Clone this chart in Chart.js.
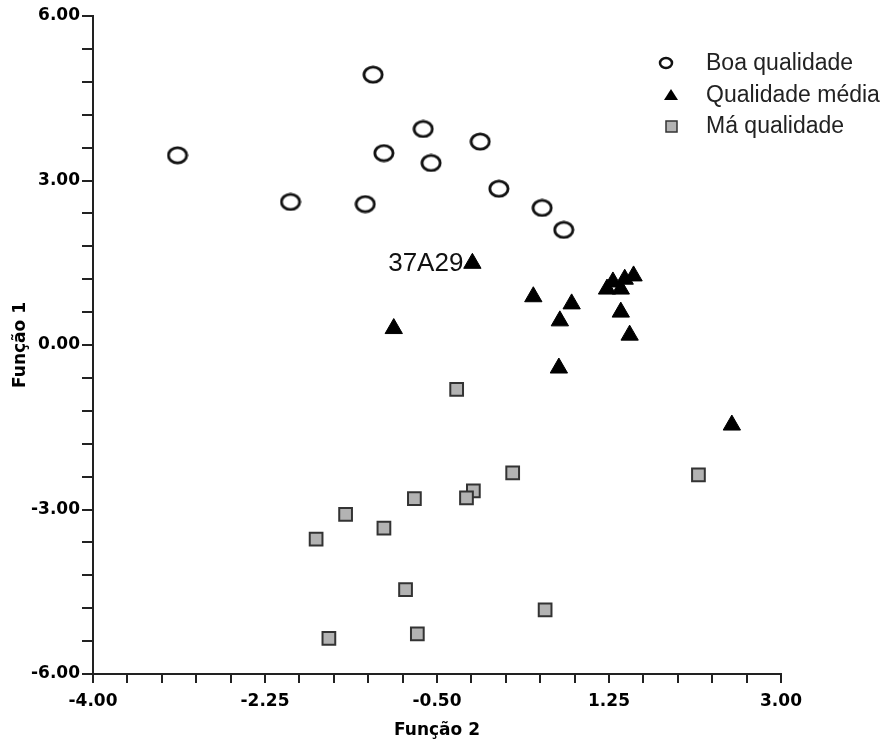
<!DOCTYPE html>
<html>
<head>
<meta charset="utf-8">
<script src="https://cdn.jsdelivr.net/npm/chart.js@4.4.1/dist/chart.umd.min.js"></script>
<style>
  html, body { margin: 0; padding: 0; background: #fff; }
  #wrap { width: 894px; height: 741px; }
</style>
</head>
<body>
<div id="wrap"><canvas id="scoreChart" width="894" height="741"></canvas></div>
<script>
const seriesNames = ['Boa qualidade', 'Qualidade média', 'Má qualidade'];

// Boa qualidade (circles)
const goodX = [-3.14, -1.99, -1.15, -1.04, -0.64, -0.56, -0.06, -1.23, 0.13, 0.57, 0.79];
const goodY = [3.46, 2.61, 4.93, 3.50, 3.94, 3.32, 3.71, 2.57, 2.85, 2.50, 2.10];

// Qualidade média (triangles)
const medX = [-0.14, -0.94, 0.48, 0.87, 0.75, 1.23, 1.29, 1.37, 1.41, 1.50, 1.37, 1.46, 0.74, 2.50];
const medY = [1.49, 0.30, 0.88, 0.75, 0.44, 1.02, 1.15, 1.02, 1.20, 1.26, 0.60, 0.18, -0.42, -1.46];

// Má qualidade (squares)
const badX = [-0.30, 0.27, -0.13, -0.20, -0.73, -1.43, -1.04, -1.73, -0.82, -1.60, -0.70, 0.60, 2.16];
const badY = [-0.81, -2.33, -2.66, -2.79, -2.80, -3.09, -3.34, -3.54, -4.46, -5.35, -5.27, -4.83, -2.37];

const xTickLabels = ['-4.00', '-2.25', '-0.50', '1.25', '3.00'];
const yTickLabels = ['-6.00', '-3.00', '0.00', '3.00', '6.00'];

const pointNotes = [{ series: 1, index: 0, text: '37A29' }];

function toPoints(xs, ys) {
  return xs.map((x, i) => ({ x: x, y: ys[i] }));
}

// open ellipse marker like the original
function ellipseMarker(w, h, lw) {
  const c = document.createElement('canvas');
  c.width = w; c.height = h;
  const g = c.getContext('2d');
  g.beginPath();
  g.ellipse(w / 2, h / 2, w / 2 - lw / 2 - 0.5, h / 2 - lw / 2 - 0.5, 0, 0, Math.PI * 2);
  g.fillStyle = '#fff';
  g.fill();
  g.lineWidth = lw;
  g.strokeStyle = '#111';
  g.stroke();
  return c;
}

const circleImg = ellipseMarker(22, 19, 2.8);

const tickFont = { family: '"DejaVu Sans", Arial, sans-serif', size: 17, weight: 'bold' };

function tickText(list) {
  return function(value) {
    const s = Number(value).toFixed(2);
    return list.includes(s) ? s : '';
  };
}

const extras = {
  id: 'extras',
  afterDatasetsDraw(chart) {
    const ctx = chart.ctx;
    const xs = chart.scales.x, ys = chart.scales.y;
    ctx.save();
    ctx.font = '26px "Liberation Sans", Arial, sans-serif';
    ctx.fillStyle = '#111';
    ctx.textAlign = 'right';
    ctx.textBaseline = 'middle';
    pointNotes.forEach(n => {
      const p = chart.data.datasets[n.series].data[n.index];
      ctx.fillText(n.text, xs.getPixelForValue(p.x) - 9, ys.getPixelForValue(p.y) + 1);
    });

    // legend in the upper right corner
    const mx = 667, tx = 706;
    const rows = [63, 95, 126];
    ctx.font = '23px "Liberation Sans", Arial, sans-serif';
    ctx.textAlign = 'left';
    chart.data.datasets.forEach((ds, i) => {
      const y = rows[i];
      ctx.beginPath();
      if (i === 0) {
        ctx.ellipse(mx - 1, y, 6, 5, 0, 0, Math.PI * 2);
        ctx.fillStyle = '#fff';
        ctx.fill();
        ctx.lineWidth = 2.5;
        ctx.strokeStyle = '#111';
        ctx.stroke();
      } else if (i === 1) {
        ctx.moveTo(mx + 4, y - 6);
        ctx.lineTo(mx + 11, y + 5);
        ctx.lineTo(mx - 3, y + 5);
        ctx.closePath();
        ctx.fillStyle = '#000';
        ctx.fill();
      } else {
        ctx.rect(mx - 1, y - 5, 11, 11);
        ctx.fillStyle = '#b3b3b3';
        ctx.fill();
        ctx.lineWidth = 1.5;
        ctx.strokeStyle = '#333';
        ctx.stroke();
      }
      ctx.fillStyle = '#222';
      ctx.fillText(ds.label, tx, y + 1);
    });
    ctx.restore();
  }
};

const config = {
  type: 'scatter',
  data: {
    datasets: [
      {
        label: seriesNames[0],
        data: toPoints(goodX, goodY),
        pointStyle: circleImg,
        radius: 9
      },
      {
        label: seriesNames[1],
        data: toPoints(medX, medY),
        pointStyle: 'triangle',
        radius: 10,
        backgroundColor: '#000',
        borderColor: '#000',
        borderWidth: 1
      },
      {
        label: seriesNames[2],
        data: toPoints(badX, badY),
        pointStyle: 'rect',
        radius: 9,
        backgroundColor: '#b3b3b3',
        borderColor: '#333',
        borderWidth: 2
      }
    ]
  },
  options: {
    responsive: false,
    animation: false,
    layout: { padding: { top: 16, right: 113, left: 0, bottom: 0 } },
    plugins: {
      legend: { display: false },
      tooltip: { enabled: false }
    },
    scales: {
      x: {
        type: 'linear',
        min: -4,
        max: 3,
        afterFit(scale) { scale.height = 67; },
        border: { display: true, color: '#222', width: 2 },
        grid: { drawOnChartArea: false, drawTicks: true, tickLength: 9, color: '#222', lineWidth: 2 },
        ticks: {
          stepSize: 0.35,
          autoSkip: false,
          maxRotation: 0,
          padding: 8,
          color: '#000',
          font: tickFont,
          callback: tickText(xTickLabels)
        },
        title: {
          display: true,
          text: 'Função 2',
          color: '#000',
          font: tickFont,
          padding: { top: 5, bottom: 0 }
        }
      },
      y: {
        type: 'linear',
        min: -6,
        max: 6,
        afterFit(scale) { scale.width = 93; },
        border: { display: true, color: '#222', width: 2 },
        grid: { drawOnChartArea: false, drawTicks: true, tickLength: 11, color: '#222', lineWidth: 2 },
        ticks: {
          stepSize: 0.6,
          autoSkip: false,
          padding: 2,
          color: '#000',
          font: tickFont,
          callback: tickText(yTickLabels)
        },
        title: {
          display: true,
          text: 'Função 1',
          color: '#000',
          font: tickFont,
          padding: { top: 10, bottom: 0 }
        }
      }
    }
  },
  plugins: [extras]
};

window.onload = function() {
  const ctx = document.getElementById('scoreChart').getContext('2d');
  new Chart(ctx, config);
};
</script>
</body>
</html>
